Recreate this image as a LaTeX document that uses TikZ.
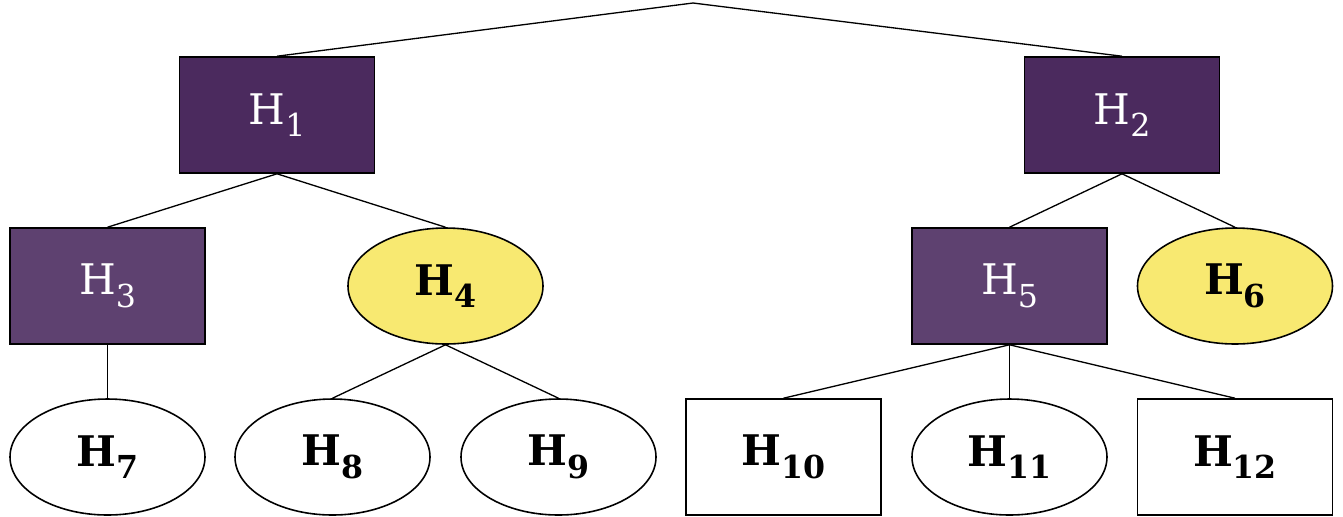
\documentclass[tikz,border=0pt]{standalone}
\usepackage{fontspec}
\setmainfont{DejaVu Serif}
\usepackage{tikz}
\usetikzlibrary{shapes.geometric}
\usepackage{xcolor}
\definecolor{plumdark}{HTML}{4B2A5E}
\definecolor{plumlight}{HTML}{5E4170}
\definecolor{hyellow}{HTML}{F8E971}
\newcommand{\hnode}[1]{H\raisebox{-0.3em}{\fontsize{18}{19}\selectfont #1}}

\begin{document}
\begin{tikzpicture}[font=\fontsize{24}{28}\selectfont,
  box/.style={rectangle,draw=black,line width=0.9pt,minimum width=3.9cm,minimum height=2.32cm,inner sep=0pt},
  oval/.style={ellipse,draw=black,line width=0.9pt,minimum width=3.9cm,minimum height=2.32cm,inner sep=0pt},
  darkbox/.style={box,fill=plumdark,text=white},
  lightbox/.style={box,fill=plumlight,text=white},
  yoval/.style={oval,fill=hyellow,font=\fontsize{24}{28}\selectfont\bfseries},
  woval/.style={oval,fill=white,font=\fontsize{24}{28}\selectfont\bfseries},
  wbox/.style={box,fill=white,font=\fontsize{24}{28}\selectfont\bfseries},
  edge/.style={line width=0.75pt}]
\useasboundingbox (0,0) rectangle (26.86,-10.32);
\coordinate (top) at (13.86,-0.06);
\node[darkbox] (h1) at (5.54,-2.30) {\hnode{1}};
\node[darkbox] (h2) at (22.44,-2.30) {\hnode{2}};
\node[lightbox] (h3) at (2.15,-5.72) {\hnode{3}};
\node[yoval] (h4) at (8.91,-5.72) {\hnode{4}};
\node[lightbox] (h5) at (20.19,-5.72) {\hnode{5}};
\node[yoval] (h6) at (24.70,-5.72) {\hnode{6}};
\node[woval] (h7) at (2.15,-9.14) {\hnode{7}};
\node[woval] (h8) at (6.65,-9.14) {\hnode{8}};
\node[woval] (h9) at (11.17,-9.14) {\hnode{9}};
\node[wbox] (h10) at (15.67,-9.14) {\hnode{10}};
\node[woval] (h11) at (20.19,-9.14) {\hnode{11}};
\node[wbox] (h12) at (24.70,-9.14) {\hnode{12}};
\draw[edge] (h1.north) -- (top) -- (h2.north);
\draw[edge] (h3.north) -- (h1.south) -- (h4.north);
\draw[edge] (h5.north) -- (h2.south) -- (h6.north);
\draw[edge] (h3.south) -- (h7.north);
\draw[edge] (h8.north) -- (h4.south) -- (h9.north);
\draw[edge] (h10.north) -- (h5.south) -- (h12.north);
\draw[edge] (h5.south) -- (h11.north);
\end{tikzpicture}
\end{document}
